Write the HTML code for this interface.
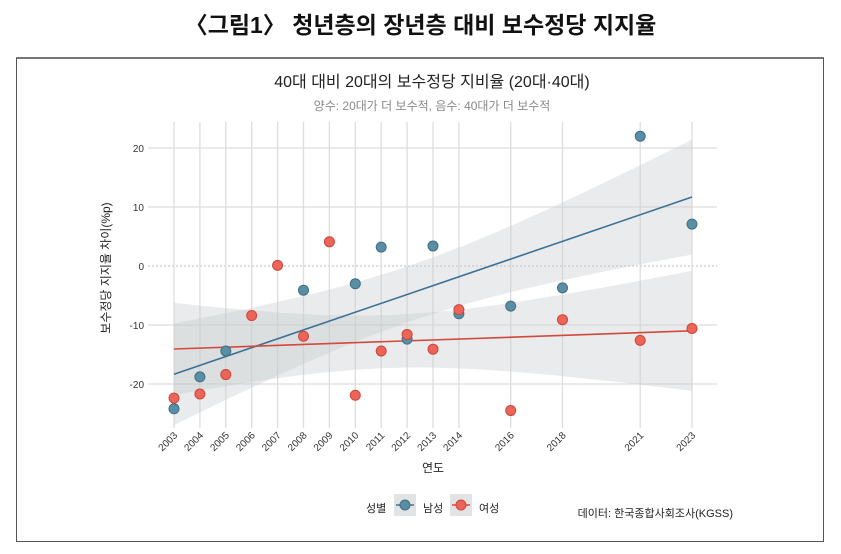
<!DOCTYPE html>
<html><head><meta charset="utf-8">
<style>
body{margin:0;width:841px;height:554px;background:#fff;font-family:"Liberation Sans","Noto Sans CJK KR",sans-serif;overflow:hidden;position:relative}
.t{position:absolute;left:0;width:841px;text-align:center}
</style></head><body>
<div class="t" style="top:6px;font-size:23px;font-weight:bold;color:#111">〈그림1〉 청년층의 장년층 대비 보수정당 지지율</div>
<div style="position:absolute;left:16px;top:57px;width:806px;height:482px;border:1px solid #555;border-top:2px solid #777"></div>
<svg id="c" width="841" height="554" style="position:absolute;left:0;top:0" font-family="Liberation Sans, Noto Sans CJK KR, sans-serif">
<text x="432" y="87" text-anchor="middle" font-size="16" fill="#222">40대 대비 20대의 보수정당 지비율 (20대·40대)</text>
<text x="432" y="110" text-anchor="middle" font-size="12" fill="#888">양수: 20대가 더 보수적, 음수: 40대가 더 보수적</text>
<g id="grid"></g><g id="bands"></g><g id="lines"></g><g id="pts"></g><g id="axes"></g>
<text transform="translate(110,268) rotate(-90)" text-anchor="middle" font-size="12" fill="#222">보수정당 지지율 차이(%p)</text>
<text x="433" y="472" text-anchor="middle" font-size="12" fill="#222">연도</text>
<g>
<text x="366" y="512" font-size="11" fill="#222">성별</text>
<g>
<rect x="394" y="494" width="22" height="22" fill="#e2e3e5"/><line x1="396" y1="505" x2="414" y2="505" stroke="#3e7193" stroke-width="1.5"/><circle cx="405" cy="505" r="5" fill="#5a8ea4" stroke="#3f6f86"/>
<text x="423" y="512" font-size="11" fill="#222">남성</text></g>
<g>
<rect x="450" y="494" width="22" height="22" fill="#e2e3e5"/><line x1="452" y1="505" x2="470" y2="505" stroke="#d4493d" stroke-width="1.5"/><circle cx="461" cy="505" r="5" fill="#ec6558" stroke="#c9473c"/>
<text x="479" y="512" font-size="11" fill="#222">여성</text></g>
</g>
<text x="733" y="517" text-anchor="end" font-size="11" fill="#222">데이터: 한국종합사회조사(KGSS)</text>
</svg>
<script>
const years=[2003,2004,2005,2006,2007,2008,2009,2010,2011,2012,2013,2014,2016,2018,2021,2023];
const maleYears=[2003,2004,2005,2008,2010,2011,2012,2013,2014,2016,2018,2021,2023];
const maleVals=[-24.2,-18.8,-14.4,-4.1,-3.0,3.2,-12.4,3.4,-8.1,-6.8,-3.7,22.0,7.1];
const femaleYears=[2003,2004,2005,2006,2007,2008,2009,2010,2011,2012,2013,2014,2016,2018,2021,2023];
const femaleVals=[-22.4,-21.7,-18.4,-8.4,0.1,-11.9,4.1,-21.9,-14.4,-11.6,-14.1,-7.4,-24.5,-9.1,-12.6,-10.6];
const yTicks=[20,10,0,-10,-20];
const NS='http://www.w3.org/2000/svg';
const X=y=>174+(y-2003)*(692-174)/20;
const Y=v=>266-v*5.9;
function el(p,tag,a){const e=document.createElementNS(NS,tag);for(const k in a)e.setAttribute(k,a[k]);document.getElementById(p).appendChild(e);return e;}
yTicks.forEach(t=>{
 const l=el('grid','line',{x1:148,x2:717,y1:Y(t),y2:Y(t),stroke:t===0?'#bbb':'#ddd','stroke-width':t===0?1:1.3,'stroke-dasharray':t===0?'2,2':'none'});
 
 
 const tx=el('axes','text',{x:144,y:Y(t)+4,'text-anchor':'end','font-size':10,fill:'#333'});
 tx.textContent=t;
 
 
});
years.forEach(yr=>{
 const l=el('grid','line',{x1:X(yr),x2:X(yr),y1:122,y2:428,stroke:'#ddd','stroke-width':1.3});
 
 
 const tx=el('axes','text',{transform:`translate(${X(yr)+4},436) rotate(-45)`,'text-anchor':'end','font-size':10,fill:'#333'});
 tx.textContent=yr;
 
 
});
function fit(xs,ys,color,name){
 const n=xs.length,mx=xs.reduce((a,b)=>a+b)/n,my=ys.reduce((a,b)=>a+b)/n;
 let sxx=0,sxy=0;xs.forEach((x,i)=>{sxx+=(x-mx)**2;sxy+=(x-mx)*(ys[i]-my);});
 const b=sxy/sxx,a=my-b*mx;let sse=0;xs.forEach((x,i)=>sse+=(ys[i]-a-b*x)**2);
 const s=Math.sqrt(sse/(n-2)),t=2.2;
 const x0=xs[0],x1=xs[n-1];let up=[],lo=[];
 for(let k=0;k<=40;k++){const x=x0+(x1-x0)*k/40,f=a+b*x,se=s*Math.sqrt(1/n+(x-mx)**2/sxx);up.push(X(x)+','+Y(f+t*se));lo.unshift(X(x)+','+Y(f-t*se));}
 const p=el('bands','polygon',{points:up.concat(lo).join(' '),fill:'#c9ccd0','fill-opacity':0.4});
 
 
 const l=el('lines','line',{x1:X(x0),y1:Y(a+b*x0),x2:X(x1),y2:Y(a+b*x1),stroke:color,'stroke-width':1.6});
 
 
}
fit(maleYears,maleVals,'#3e7193','male');
fit(femaleYears,femaleVals,'#d4493d','female');
maleYears.forEach((yr,i)=>{const c=el('pts','circle',{cx:X(yr),cy:Y(maleVals[i]),r:5,fill:'#5a8ea4',stroke:'#3f6f86'});
 
 });
femaleYears.forEach((yr,i)=>{const c=el('pts','circle',{cx:X(yr),cy:Y(femaleVals[i]),r:5,fill:'#ec6558',stroke:'#c9473c'});
 
 });
</script>
</body></html>
